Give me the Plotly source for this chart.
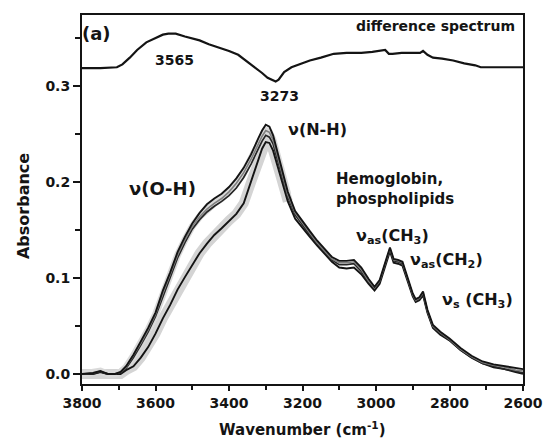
import plotly.graph_objects as go

# ---- data ----
wavenumber = [3800, 3770, 3750, 3730, 3710, 3695, 3680, 3660, 3640, 3620, 3600, 3580, 3560, 3540,
              3520, 3500, 3480, 3460, 3440, 3420, 3400, 3380, 3360, 3340, 3320, 3310, 3300, 3290,
              3280, 3260, 3240, 3220, 3200, 3180, 3160, 3140, 3120, 3100, 3080, 3060, 3040, 3020,
              3004, 2990, 2975, 2962, 2952, 2940, 2928, 2915, 2900, 2892, 2882, 2872, 2860, 2845,
              2825, 2800, 2770, 2740, 2710, 2680, 2650, 2620, 2600]

spectrum_a = [0.000, 0.001, 0.003, 0.000, 0.000, 0.002, 0.008, 0.020, 0.034, 0.048, 0.064, 0.087, 0.106, 0.127,
              0.143, 0.157, 0.168, 0.177, 0.183, 0.188, 0.195, 0.204, 0.215, 0.229, 0.246, 0.254, 0.260, 0.258,
              0.249, 0.220, 0.190, 0.170, 0.159, 0.149, 0.139, 0.130, 0.122, 0.118, 0.118, 0.119, 0.111, 0.099,
              0.091, 0.098, 0.116, 0.132, 0.120, 0.119, 0.117, 0.101, 0.084, 0.078, 0.080, 0.086, 0.067, 0.051,
              0.044, 0.037, 0.027, 0.019, 0.013, 0.010, 0.008, 0.006, 0.005]

spectrum_b = [0.000, 0.001, 0.003, 0.000, 0.000, 0.002, 0.007, 0.019, 0.032, 0.046, 0.062, 0.084, 0.103, 0.124,
              0.140, 0.154, 0.164, 0.172, 0.178, 0.183, 0.190, 0.199, 0.210, 0.224, 0.240, 0.248, 0.254, 0.252,
              0.244, 0.216, 0.187, 0.168, 0.157, 0.147, 0.137, 0.128, 0.120, 0.116, 0.116, 0.117, 0.109, 0.097,
              0.090, 0.097, 0.115, 0.131, 0.119, 0.118, 0.116, 0.100, 0.083, 0.077, 0.079, 0.085, 0.066, 0.050,
              0.043, 0.036, 0.026, 0.018, 0.012, 0.009, 0.007, 0.004, 0.003]

spectrum_c = [0.000, 0.000, 0.002, 0.000, 0.000, 0.001, 0.006, 0.017, 0.030, 0.044, 0.060, 0.081, 0.100, 0.121,
              0.137, 0.151, 0.161, 0.169, 0.175, 0.180, 0.186, 0.194, 0.205, 0.219, 0.235, 0.243, 0.249, 0.247,
              0.240, 0.213, 0.185, 0.166, 0.155, 0.145, 0.136, 0.127, 0.119, 0.114, 0.114, 0.115, 0.107, 0.096,
              0.089, 0.096, 0.114, 0.130, 0.118, 0.117, 0.115, 0.099, 0.082, 0.076, 0.078, 0.084, 0.065, 0.049,
              0.042, 0.035, 0.025, 0.017, 0.011, 0.008, 0.005, 0.003, 0.001]

spectrum_d = [0.000, 0.000, 0.002, 0.000, 0.000, 0.000, 0.004, 0.008, 0.017, 0.028, 0.042, 0.058, 0.072, 0.088,
              0.101, 0.114, 0.126, 0.136, 0.145, 0.152, 0.160, 0.167, 0.178, 0.200, 0.224, 0.235, 0.242, 0.241,
              0.233, 0.207, 0.180, 0.162, 0.152, 0.143, 0.134, 0.125, 0.117, 0.111, 0.110, 0.111, 0.104, 0.094,
              0.087, 0.094, 0.112, 0.128, 0.116, 0.115, 0.113, 0.098, 0.081, 0.075, 0.077, 0.082, 0.064, 0.048,
              0.041, 0.035, 0.025, 0.017, 0.011, 0.007, 0.005, 0.002, 0.000]

diff_wavenumber = [3800, 3750, 3705, 3690, 3670, 3650, 3625, 3600, 3580, 3565, 3545, 3520, 3500, 3480, 3455,
                   3430, 3400, 3375, 3350, 3330, 3310, 3295, 3280, 3273, 3265, 3250, 3230, 3200, 3180, 3150,
                   3115, 3080, 3040, 3010, 2985, 2975, 2965, 2955, 2930, 2900, 2880, 2872, 2860, 2845, 2820,
                   2790, 2760, 2730, 2715, 2680, 2640, 2600]
diff_spectrum = [0.319, 0.319, 0.320, 0.323, 0.330, 0.338, 0.346, 0.350, 0.354, 0.355, 0.355, 0.352, 0.350, 0.348, 0.344,
                 0.341, 0.337, 0.333, 0.326, 0.320, 0.314, 0.309, 0.306, 0.305, 0.307, 0.315, 0.320, 0.324, 0.327, 0.330,
                 0.334, 0.335, 0.335, 0.336, 0.337, 0.338, 0.334, 0.334, 0.335, 0.335, 0.335, 0.337, 0.333, 0.330, 0.329,
                 0.327, 0.324, 0.322, 0.320, 0.320, 0.320, 0.320]

x_ticks = [3800, 3600, 3400, 3200, 3000, 2800, 2600]
y_ticks = [0.0, 0.1, 0.2, 0.3]
y_tick_labels = ["0.0", "0.1", "0.2", "0.3"]

FONT = "DejaVu Sans, Liberation Sans, sans-serif"
INK = "#141414"

fig = go.Figure()

# light grey scatter band (left part of the spectra only)
band_end = wavenumber.index(3240)
fig.add_trace(go.Scatter(x=wavenumber[:band_end + 1], y=spectrum_d[:band_end + 1], mode="lines",
                         line=dict(color="#d4d4d4", width=10), hoverinfo="skip"))
fig.add_trace(go.Scatter(x=wavenumber[:band_end + 1], y=spectrum_b[:band_end + 1], mode="lines",
                         line=dict(color="#dadada", width=7), hoverinfo="skip"))
for ys, col, w in [(spectrum_d, INK, 1.9), (spectrum_c, "#262626", 1.7),
                   (spectrum_b, "#808080", 1.6), (spectrum_a, INK, 1.9)]:
    fig.add_trace(go.Scatter(x=wavenumber, y=ys, mode="lines",
                             line=dict(color=col, width=w), hoverinfo="skip"))

fig.add_trace(go.Scatter(x=diff_wavenumber, y=diff_spectrum, mode="lines",
                         line=dict(color=INK, width=2.2), hoverinfo="skip"))

def ann(text, x, y, size, xanchor="center", align="center"):
    fig.add_annotation(text=text, x=x, y=y, xref="x", yref="y", showarrow=False,
                       xanchor=xanchor, yanchor="middle", align=align,
                       font=dict(family=FONT, size=size, color=INK, weight="bold"))

ann("(a)", 3760, 0.3555, 18)
ann("difference spectrum", 2615, 0.3635, 14, xanchor="right")
ann("3565", 3547, 0.328, 14)
ann("3273", 3262, 0.2895, 14)
ann("ν(O-H)", 3580, 0.193, 18)
ann("ν(N-H)", 3245, 0.255, 16, xanchor="left")
ann("Hemoglobin,<br>phospholipids", 3113, 0.1925, 15, xanchor="left", align="left")
ann("ν<sub>as</sub>(CH<sub>3</sub>)", 3060, 0.143, 16, xanchor="left")
ann("ν<sub>as</sub>(CH<sub>2</sub>)", 2912, 0.118, 16, xanchor="left")
ann("ν<sub>s</sub> (CH<sub>3</sub>)", 2825, 0.077, 16, xanchor="left")

# axis titles
fig.add_annotation(text="Absorbance", xref="paper", yref="paper", x=-0.134, y=0.482,
                   textangle=-90, showarrow=False, xanchor="center", yanchor="middle",
                   font=dict(family=FONT, size=16, color=INK, weight="bold"))
fig.add_annotation(text="Wavenumber (cm<sup>-1</sup>)", xref="paper", yref="paper", x=0.5, y=-0.122,
                   showarrow=False, xanchor="center", yanchor="middle",
                   font=dict(family=FONT, size=15, color=INK, weight="bold"))

axis_common = dict(showline=True, linecolor=INK, linewidth=2, mirror=True,
                   showgrid=False, zeroline=False, ticks="outside", tickcolor=INK,
                   tickwidth=1.5,
                   tickfont=dict(family=FONT, size=14, color=INK, weight="bold"))

fig.update_layout(
    width=555, height=439,
    margin=dict(l=82, r=20, t=15, b=55),
    paper_bgcolor="white", plot_bgcolor="white",
    showlegend=False,
    xaxis=dict(range=[3800, 2600], tickvals=x_ticks, ticklen=5,
               minor=dict(dtick=100, ticks="outside", ticklen=4, tickcolor=INK, tickwidth=1.5),
               **axis_common),
    yaxis=dict(range=[-0.0105, 0.3745], tickvals=y_ticks, ticktext=y_tick_labels, ticklen=7,
               minor=dict(dtick=0.05, ticks="outside", ticklen=5, tickcolor=INK, tickwidth=1.5),
               **axis_common),
)

fig.write_html("out.html", config={"displayModeBar": False},
               post_script="document.body.style.margin='0';document.body.style.padding='0';")
